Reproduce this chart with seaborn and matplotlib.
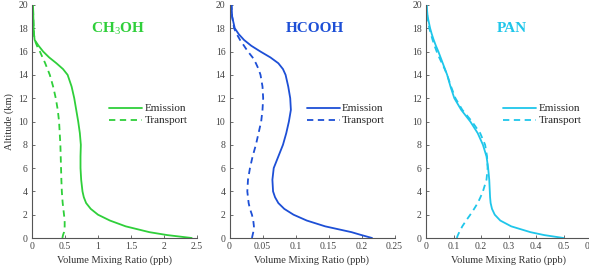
import numpy as np
import pandas as pd
import matplotlib
matplotlib.use('Agg')
import matplotlib.pyplot as plt
import seaborn as sns

# Altitude grid (km)
alt = [0, 0.25, 0.5, 1, 1.5, 2, 2.5, 3, 3.5, 4, 5, 6, 7, 8, 9, 10, 11, 12, 13, 14,
       14.5, 15, 15.5, 16, 16.5, 17, 17.5, 18, 19, 20]

# CH3OH (ppb)
ch3oh_emis = [2.42, 2.05, 1.78, 1.42, 1.18, 1.0, 0.89, 0.82, 0.785, 0.765, 0.745, 0.735, 0.735, 0.74, 0.725,
              0.70, 0.67, 0.64, 0.60, 0.54, 0.47, 0.37, 0.26, 0.17, 0.10, 0.04, 0.03, 0.025, 0.02, 0.015]
ch3oh_trans = [0.46, 0.47, 0.485, 0.495, 0.495, 0.485, 0.475, 0.465, 0.458, 0.452, 0.445, 0.44, 0.435, 0.43, 0.42,
               0.41, 0.39, 0.36, 0.32, 0.27, 0.235, 0.20, 0.16, 0.12, 0.075, 0.04, 0.03, 0.025, 0.02, 0.015]

# HCOOH (ppb)
hcooh_emis = [0.216, 0.2, 0.185, 0.145, 0.117, 0.097, 0.083, 0.074, 0.069, 0.066, 0.065, 0.067, 0.074, 0.081, 0.086,
              0.090, 0.093, 0.092, 0.089, 0.085, 0.081, 0.074, 0.062, 0.047, 0.033, 0.022, 0.014, 0.008, 0.004, 0.003]
hcooh_trans = [0.034, 0.035, 0.036, 0.037, 0.036, 0.034, 0.031, 0.029, 0.028, 0.027, 0.028, 0.031, 0.035, 0.040, 0.044,
               0.048, 0.050, 0.051, 0.050, 0.047, 0.044, 0.040, 0.035, 0.028, 0.022, 0.016, 0.011, 0.007, 0.004, 0.003]

# PAN (ppb)
pan_emis = [0.50, 0.43, 0.38, 0.31, 0.27, 0.25, 0.24, 0.235, 0.233, 0.232, 0.230, 0.226, 0.220, 0.207, 0.188,
            0.161, 0.128, 0.103, 0.089, 0.077, 0.069, 0.061, 0.053, 0.045, 0.036, 0.028, 0.021, 0.015, 0.006, 0.002]
pan_trans = [0.112, 0.116, 0.121, 0.132, 0.146, 0.161, 0.175, 0.188, 0.198, 0.207, 0.220, 0.224, 0.222, 0.215, 0.197,
             0.167, 0.132, 0.107, 0.091, 0.077, 0.068, 0.058, 0.048, 0.039, 0.031, 0.024, 0.018, 0.012, 0.005, 0.002]

species = ['CH$_3$OH', 'HCOOH', 'PAN']
emission = [ch3oh_emis, hcooh_emis, pan_emis]
transport = [ch3oh_trans, hcooh_trans, pan_trans]
xmax = [2.5, 0.25, 0.6]
xticks = [[0, 0.5, 1, 1.5, 2, 2.5],
          [0, 0.05, 0.1, 0.15, 0.2, 0.25],
          [0, 0.1, 0.2, 0.3, 0.4, 0.5, 0.6]]
xticklabels = [['0', '0.5', '1', '1.5', '2', '2.5'],
               ['0', '0.05', '0.1', '0.15', '0.2', '0.25'],
               ['0', '0.1', '0.2', '0.3', '0.4', '0.5', '0.6']]
colors = ['#2fcf3a', '#1d4fd6', '#1fc6ea']

sns.set_theme(style='ticks')
plt.rcParams.update({
    'font.family': ['Liberation Serif', 'DejaVu Serif'],
    'mathtext.fontset': 'custom',
    'mathtext.rm': 'Liberation Serif',
    'mathtext.bf': 'Liberation Serif:bold',
    'xtick.direction': 'in',
    'ytick.direction': 'in',
    'axes.edgecolor': '#555555',
    'xtick.color': '#555555',
    'ytick.color': '#555555',
    'xtick.labelcolor': '#444444',
    'ytick.labelcolor': '#444444',
    'font.size': 8,
})

fig = plt.figure(figsize=(5.89, 2.69), dpi=100)
lefts = [32 / 589, 229.5 / 589, 426 / 589]
width = 165 / 589
bottom = 1 - 238 / 269
height = (238 - 5) / 269

for i in range(3):
    ax = fig.add_axes([lefts[i], bottom, width, height])
    df = pd.DataFrame({'alt': alt, 'emis': emission[i], 'trans': transport[i]})
    sns.lineplot(data=df, x='emis', y='alt', sort=False, orient='y', ax=ax,
                 color=colors[i], linewidth=1.3, label='Emission')
    sns.lineplot(data=df, x='trans', y='alt', sort=False, orient='y', ax=ax,
                 color=colors[i], linewidth=1.3, linestyle=(0, (3.5, 2.5)), label='Transport')
    ax.set_xlim(0, xmax[i])
    ax.set_ylim(0, 20)
    ax.set_xticks(xticks[i])
    ax.set_xticklabels(xticklabels[i])
    ax.set_yticks(range(0, 21, 2))
    ax.tick_params(labelsize=7, length=2.5, width=0.6, pad=3)
    for s in ['left', 'bottom']:
        ax.spines[s].set_linewidth(0.8)
    sns.despine(ax=ax)
    ax.set_xlabel('Volume Mixing Ratio (ppb)', fontsize=7.5, color='#333333', labelpad=3)
    if i == 0:
        ax.set_ylabel('Altitude (km)', fontsize=7.5, color='#333333', labelpad=3)
    else:
        ax.set_ylabel('')
    ax.text(0.52, 0.9, species[i], transform=ax.transAxes, ha='center', va='center',
            fontsize=11, fontweight='bold', color=colors[i])
    ax.legend(loc='center left', bbox_to_anchor=(0.42, 0.53), frameon=False,
              fontsize=8, handlelength=3.0, handletextpad=0.2, labelspacing=0.2,
              borderpad=0.2)

fig.savefig('out.png', dpi=100)
